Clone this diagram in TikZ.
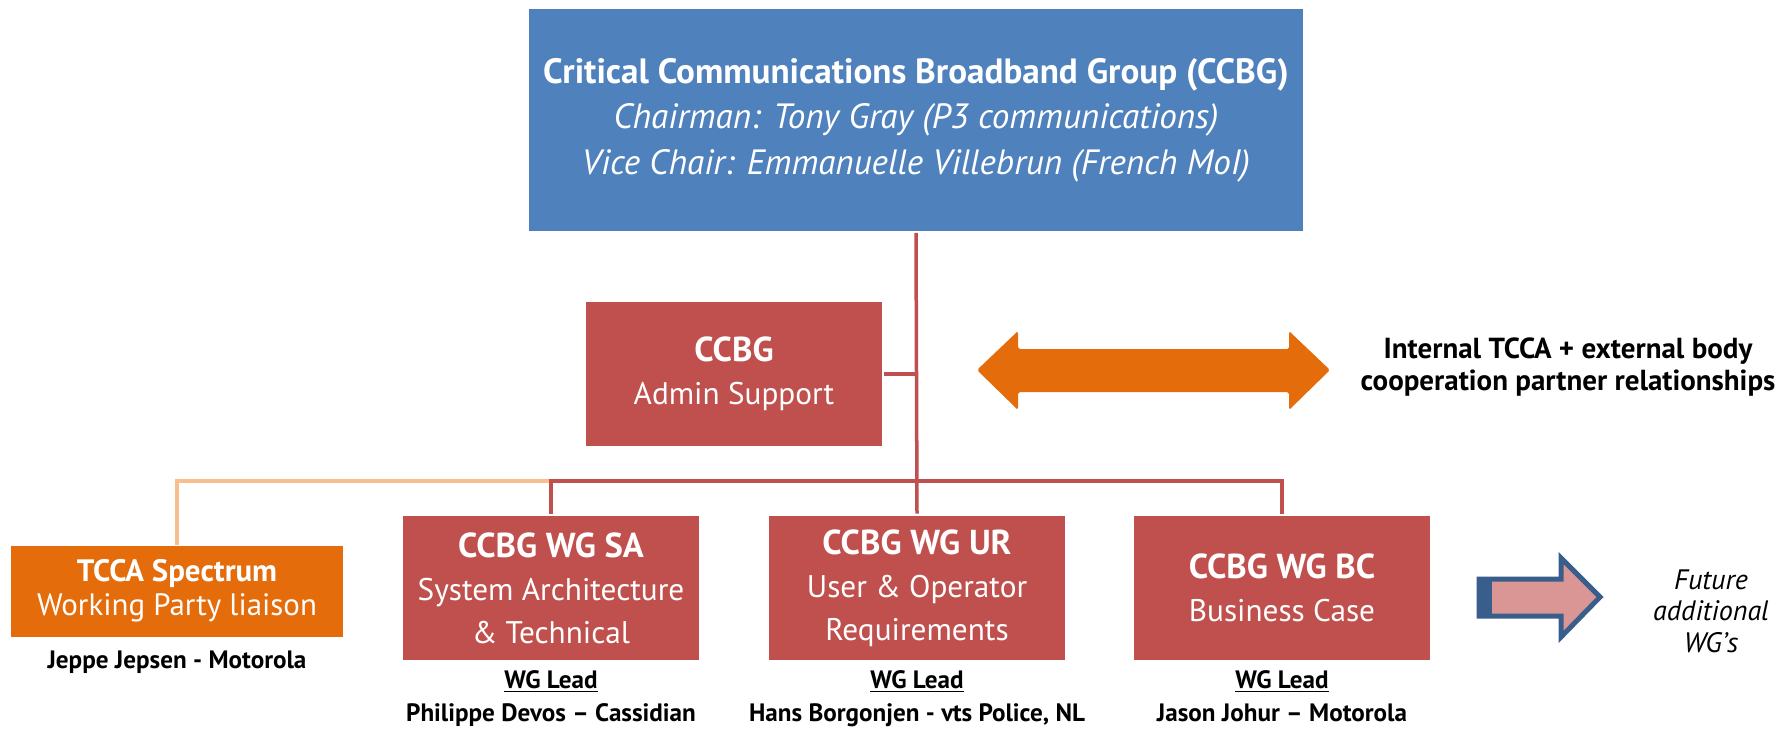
\documentclass[tikz,border=0pt]{standalone}
\usepackage{fontspec}
\setmainfont{PT Sans}
\usetikzlibrary{shapes,arrows}
\usetikzlibrary{positioning}
\definecolor{ccbgblue}{HTML}{4F81BD}
\definecolor{wgred}{HTML}{C0504D}
\definecolor{spectrumorange}{HTML}{E46C0A}
\definecolor{liaisonorange}{HTML}{F8BE8E}
\definecolor{futurepink}{HTML}{D99694}
\definecolor{futureblue}{HTML}{3A5E8C}
\tikzstyle{chair} = [rectangle, draw=white, line width=1pt, fill=ccbgblue, text=white, align=center, minimum width=15.52cm, minimum height=4.48cm, font=\fontsize{20}{26}\selectfont]
\tikzstyle{block} = [rectangle, draw=white, line width=1.5pt, fill=wgred, text=white, align=center, minimum width=5.96cm, minimum height=2.92cm, font=\fontsize{17.8}{24.5}\selectfont]
\tikzstyle{party} = [rectangle, fill=spectrumorange, text=white, align=center, minimum width=6.66cm, minimum height=1.82cm, font=\fontsize{17.6}{19.5}\selectfont]
\tikzstyle{lead} = [align=center, font=\fontsize{14.3}{18.5}\selectfont\bfseries]
\tikzstyle{line} = [draw, wgred, line width=0.07cm]
\tikzstyle{liaison} = [draw, liaisonorange, line width=0.07cm]
\tikzstyle{relarrow} = [fill=spectrumorange, rounded corners=1pt]
\tikzstyle{future} = [draw=futureblue, fill=futurepink, line width=0.1cm]

\begin{document}
\begin{tikzpicture}[x=0.02cm, y=-0.02cm]
	\useasboundingbox (0,0) rectangle (1789,728);
	% Place nodes
	\node [chair] (ccbg) at (916,120) {{\bfseries Critical Communications Broadband Group (CCBG)}\\ \itshape Chairman: Tony Gray (P3 communications)\\ \itshape Vice Chair: Emmanuelle Villebrun (French MoI)};
	\node [block] (admin) at (734,374) {{\fontsize{19.7}{24.5}\selectfont\bfseries CCBG}\\ Admin Support};
	\node [block] (sa) at (551,588) {{\fontsize{19.7}{24.5}\selectfont\bfseries CCBG WG SA}\\ System Architecture\\ \& Technical};
	\node [block] (ur) at (917,588) {{\fontsize{19.7}{24.5}\selectfont\bfseries CCBG WG UR}\\ User \& Operator\\ Requirements};
	\node [block] (bc) at (1282,588) {{\fontsize{19.7}{24.5}\selectfont\bfseries CCBG WG BC}\\ Business Case};
	\node [party] (spectrum) at (177,591) {\bfseries TCCA Spectrum\\ Working Party liaison};
	\node [lead] (jeppe) at (177,662) {Jeppe Jepsen - Motorola};
	\node [lead, below=0.05cm of sa] (salead) {\underline{WG Lead}\\ Philippe Devos -- Cassidian};
	\node [lead, below=0.05cm of ur] (urlead) {\underline{WG Lead}\\ Hans Borgonjen - vts Police, NL};
	\node [lead, below=0.05cm of bc] (bclead) {\underline{WG Lead}\\ Jason Johur -- Motorola};
	\node [lead, font=\fontsize{16.5}{18.2}\selectfont\bfseries] (reltext) at (1568,367) {Internal TCCA + external body\\ cooperation partner relationships};
	\node [lead, font=\fontsize{16}{18}\selectfont\itshape] (futuretext) at (1711,611) {Future\\ additional\\ WG's};
	\coordinate (bus) at (917,481);
	
	% Draw edges
	\path [liaison] (spectrum.north) |- (sa.north |- bus);
	\path [line] (ccbg.south) -- (ur.north);
	\path [line] (sa.north) |- (bus) -| (bc.north);
	\path [line] (admin.east) -- (admin.east -| ccbg.south);
	
	% Arrows
	\fill [relarrow] (977,370) -- (1018,331) -- (1018,349) -- (1289,349) -- (1289,331) -- (1330,370) -- (1289,410) -- (1289,392) -- (1018,392) -- (1018,410) -- cycle;
	\filldraw [future] (1479,579) -- (1561,579) -- (1561,558) -- (1600,597) -- (1561,637) -- (1561,616) -- (1479,616) -- cycle;
	\fill [futureblue] (1477,577) rectangle (1492,618);
\end{tikzpicture}
\end{document}
